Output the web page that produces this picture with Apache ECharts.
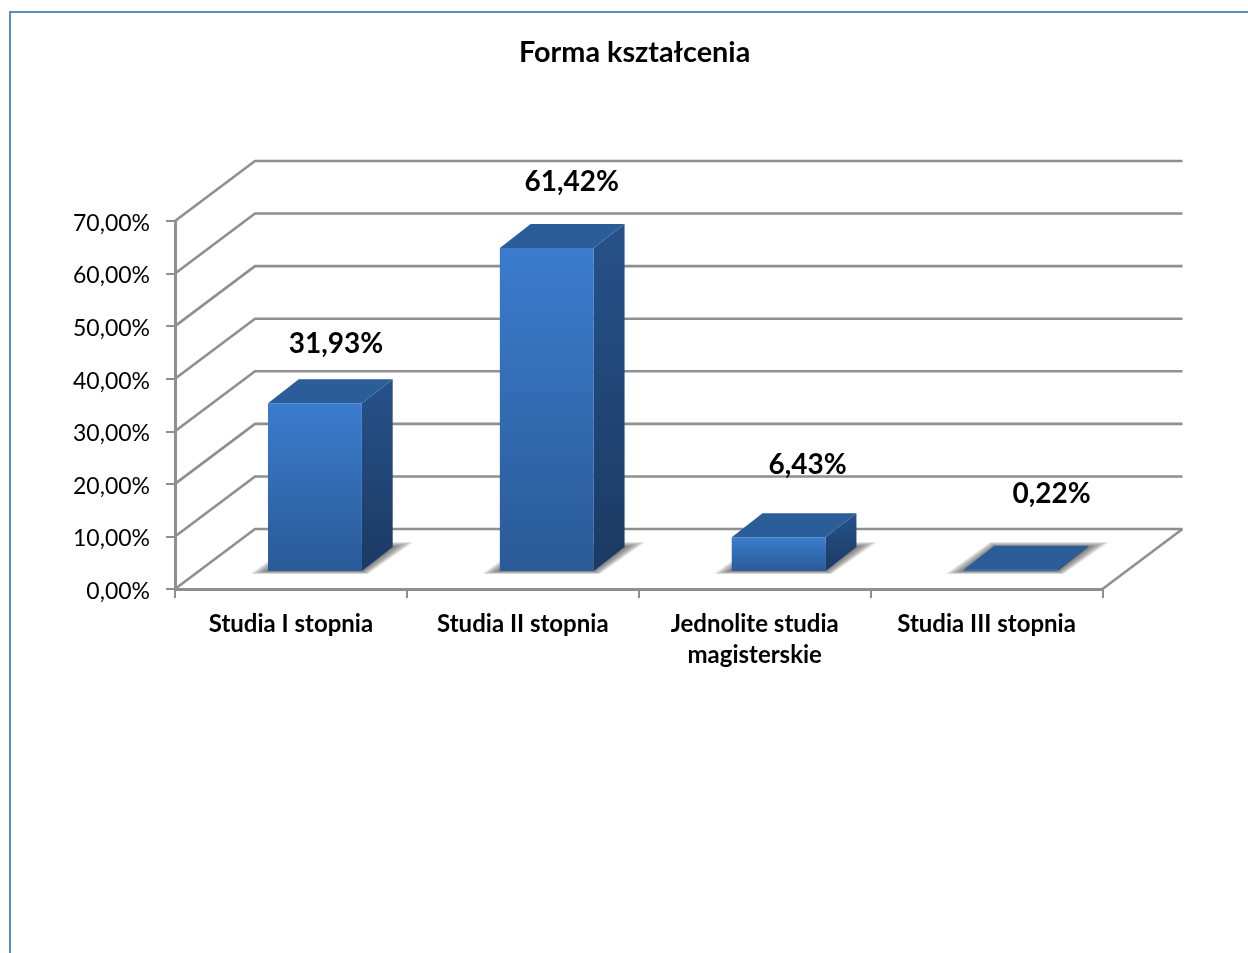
<!DOCTYPE html>
<html>
<head>
<meta charset="utf-8">
<style>html,body{margin:0;padding:0;background:#fff;overflow:hidden}#c{width:1248px;height:953px}</style>
<script src="https://cdn.jsdelivr.net/npm/echarts@6/dist/echarts.min.js"></script>
</head>
<body>
<div id="c"></div>
<script>
var titleText = 'Forma kształcenia';
var categories = ['Studia I stopnia', 'Studia II stopnia', 'Jednolite studia\nmagisterskie', 'Studia III stopnia'];
var values = [31.93, 61.42, 6.43, 0.22];
var gridTicks = [0, 10, 20, 30, 40, 50, 60, 70];

var FONT = 'Lato';
var GRID = '#8f8f8f';
var labelOffsets = [[21, -59], [25, -66], [29, -72], [41, -76]];
var WALL_DX = 80, WALL_DY = -60;
var SHADOW_LAYERS = 9;

function fmt(v) { return v.toFixed(2).replace('.', ',') + '%'; }
function grad(a, b) {
  return { type: 'linear', x: 0, y: 0, x2: 0, y2: 1, colorStops: [{ offset: 0, color: a }, { offset: 1, color: b }] };
}

function renderWall(params, api) {
  var cs = params.coordSys;
  var left = cs.x, right = cs.x + cs.width;
  var y = api.coord([0, api.value(0)])[1];
  var children = [{
    type: 'polyline',
    shape: { points: [[left, y], [left + WALL_DX, y + WALL_DY], [right + WALL_DX, y + WALL_DY]] },
    style: { stroke: GRID, lineWidth: 2.6, fill: null }
  }];
  if (api.value(0) === 0) {
    children.push({
      type: 'line',
      shape: { x1: right, y1: y, x2: right + WALL_DX, y2: y + WALL_DY },
      style: { stroke: GRID, lineWidth: 2.6 }
    });
  }
  return { type: 'group', children: children };
}

function renderBar(params, api) {
  var i = api.value(0), v = api.value(1);
  var top0 = api.coord([i, v]);
  var base0 = api.coord([i, 0]);
  var band = api.size([1, 0])[0];
  var w = band * 0.405;
  var dx = WALL_DX * 0.385, dy = WALL_DY * 0.4;
  var x0 = top0[0] + WALL_DX * 0.3 - w / 2;
  var x1 = x0 + w;
  var yb = base0[1] + WALL_DY * 0.3;
  var yt = top0[1] + WALL_DY * 0.3;
  var off = labelOffsets[params.dataIndex];
  var children = [];
  for (var k = SHADOW_LAYERS; k >= 1; k--) {
    var t = k / SHADOW_LAYERS;
    children.push({
      type: 'polygon',
      shape: { points: [
        [x0 - 18 * t, yb + 3 * t], [x1 + 6 * t, yb + 3 * t],
        [x1 + dx + 21 * t, yb + dy - 5 * t], [x0 + dx - 4 * t, yb + dy - 5 * t]
      ] },
      style: { fill: 'rgba(70,70,70,0.105)' }
    });
  }
  children.push(
    { type: 'polygon',
      shape: { points: [[x1, yb], [x1 + dx, yb + dy], [x1 + dx, yt + dy], [x1, yt]] },
      style: { fill: grad('#26528a', '#1b3a63') } },
    { type: 'polygon',
      shape: { points: [[x0, yt], [x1, yt], [x1 + dx, yt + dy], [x0 + dx, yt + dy]] },
      style: { fill: '#2b5d99' } },
    { type: 'rect',
      shape: { x: x0, y: yt, width: w, height: Math.max(yb - yt, 0.5) },
      style: { fill: grad('#3b7ccd', '#2a5a97') } },
    { type: 'text',
      x: (x0 + x1) / 2 + off[0], y: yt + off[1],
      style: { text: fmt(v), fill: '#000', font: 'bold 28px ' + FONT, align: 'center', verticalAlign: 'middle' } }
  );
  return { type: 'group', children: children };
}

var chart = echarts.init(document.getElementById('c'), null, { renderer: 'canvas' });
chart.setOption({
  animation: false,
  backgroundColor: '#fff',
  title: {
    text: titleText, left: 514, top: 33,
    textStyle: { fontFamily: FONT, fontWeight: 'bold', fontSize: 28.8, color: '#000' }
  },
  graphic: [{
    type: 'polyline', silent: true,
    shape: { points: [[10, 953], [10, 12], [1248, 12]] },
    style: { stroke: '#5b8dc9', lineWidth: 2, fill: null }
  }],
  grid: { left: 175, width: 927.5, top: 221, height: 368 },
  xAxis: {
    type: 'category', data: categories,
    axisLine: { show: true, lineStyle: { color: GRID, width: 3 } },
    axisTick: { show: true, length: 9, alignWithLabel: false, lineStyle: { color: GRID, width: 2 } },
    axisLabel: { interval: 0, margin: 20, fontFamily: FONT, fontWeight: 'bold', fontSize: 24, lineHeight: 31, color: '#000' }
  },
  yAxis: {
    type: 'value', min: 0, max: 70, interval: 10,
    axisLine: { show: true, lineStyle: { color: GRID, width: 3 } },
    axisTick: { show: true, length: 9, lineStyle: { color: GRID, width: 2 } },
    splitLine: { show: false },
    axisLabel: {
      margin: 25, fontFamily: FONT, fontSize: 23, color: '#000',
      formatter: function (v) { return '{a|' + fmt(v) + '}'; },
      rich: { a: { fontFamily: FONT, fontSize: 23, color: '#000', padding: [5, 0, 0, 0] } }
    }
  },
  series: [
    { type: 'custom', coordinateSystem: 'cartesian2d', silent: true, z: 1, clip: false,
      encode: { y: 0 }, data: gridTicks.map(function (t) { return [t]; }), renderItem: renderWall },
    { type: 'custom', coordinateSystem: 'cartesian2d', silent: true, z: 3, clip: false,
      encode: { x: 0, y: 1 }, data: values.map(function (v, i) { return [i, v]; }), renderItem: renderBar }
  ]
});
</script>
</body>
</html>
